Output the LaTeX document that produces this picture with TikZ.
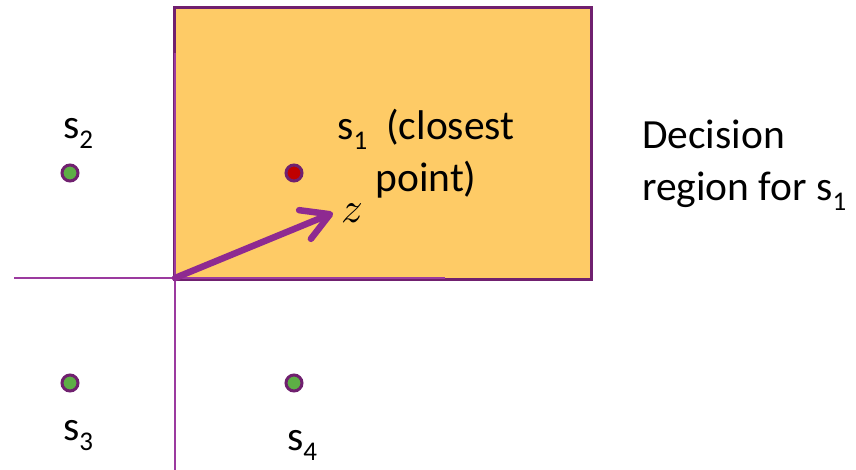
\documentclass[tikz,border=0pt]{standalone}
\usepackage{fontspec}
\setmainfont{Carlito}
\usetikzlibrary{arrows.meta}
\definecolor{goldfill}{HTML}{FECB66}
\definecolor{rimpurple}{HTML}{70206F}
\definecolor{linepurple}{HTML}{9B3A9F}
\definecolor{arrowpurple}{HTML}{8E2A91}
\definecolor{dotgreen}{HTML}{5DAE45}
\definecolor{dotred}{HTML}{C00000}
\newcommand\sbs[1]{\raisebox{-10pt}{\fontsize{27}{27}\selectfont #1}}
\tikzset{
  lbl/.style={anchor=base west, inner sep=0pt, font=\fontsize{41.5}{52}\selectfont},
  dotnode/.style={circle, draw=rimpurple, line width=3pt, minimum size=16pt, inner sep=0pt},
  divider/.style={draw=linepurple, line width=2pt},
  vecarrow/.style={draw=arrowpurple, line width=6.5pt, line cap=round,
    -{Straight Barb[length=27pt, width=31pt, round]}}
}
\begin{document}
\begin{tikzpicture}[x=1pt,y=-1pt]
\useasboundingbox (0,0) rectangle (856,470);
\fill[white] (0,0) rectangle (856,470);
% decision region
\node[draw=rimpurple, fill=goldfill, line width=3pt, minimum width=417pt, minimum height=272pt, inner sep=0pt, anchor=north west] (region) at (173,6) {};
% dividing lines
\coordinate (hl) at (14,278);
\coordinate (hr) at (445,278);
\coordinate (vt) at (175,53);
\coordinate (vb) at (175,470);
\draw[divider] (hl) -- (hr);
\draw[divider] (vt) -- (vb);
% vector z
\coordinate (o) at (175,278);
\coordinate (zt) at (333,213);
\draw[vecarrow] (o) -- (zt);
\node[anchor=base, inner sep=0pt] (zl) at (352,223) {\scalebox{4.3}{$z$}};
% points
\node[dotnode, fill=dotred] (s1) at (294,173) {};
\node[dotnode, fill=dotgreen] (s2) at (70,173) {};
\node[dotnode, fill=dotgreen] (s3) at (70,383) {};
\node[dotnode, fill=dotgreen] (s4) at (294,383) {};
% labels
\node[lbl] (l2) at (63,139) {s\sbs{2}};
\node[lbl] (l3) at (63,440) {s\sbs{3}};
\node[lbl] (l4) at (287,450) {s\sbs{4}};
\node[anchor=base, inner sep=0pt, align=center, font=\fontsize{41.5}{52}\selectfont] (l1) at (426,192) {s\sbs{1}\hspace{19pt}(closest\\point)};
\node[lbl, align=left] (dr) at (642,201) {Decision\\region for s\sbs{1}};
\end{tikzpicture}
\end{document}
